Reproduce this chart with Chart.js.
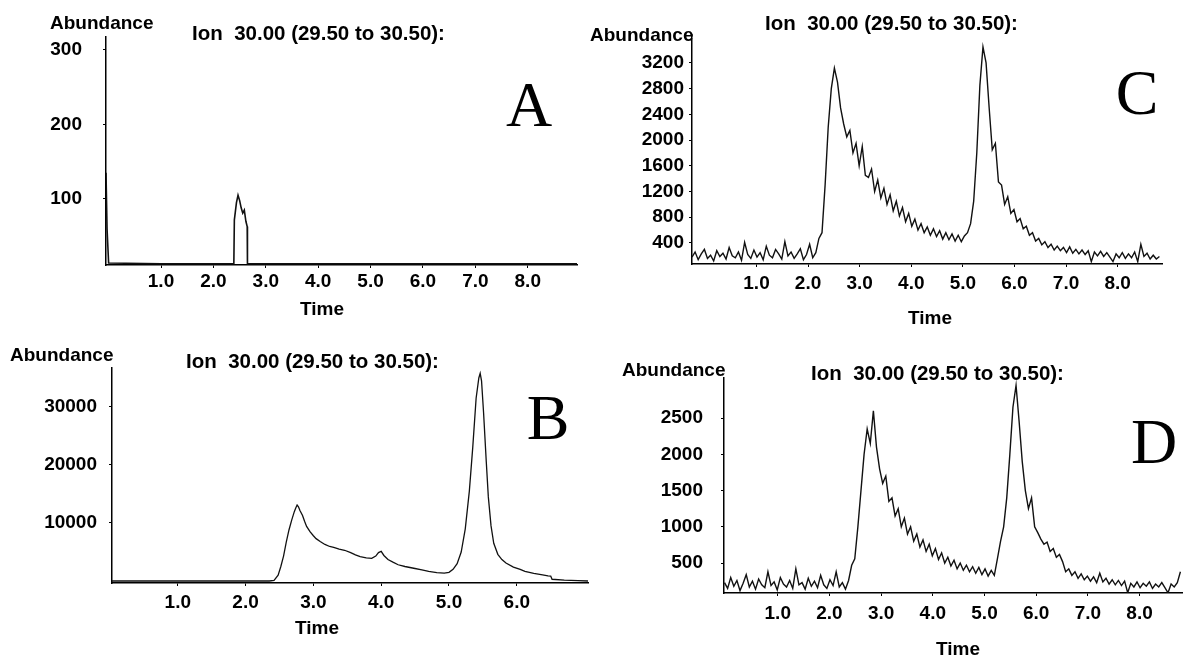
<!DOCTYPE html>
<html>
<head>
<meta charset="utf-8">
<script src="https://cdn.jsdelivr.net/npm/chart.js@4.4.1/dist/chart.umd.min.js"></script>
<style>
  html, body { margin: 0; padding: 0; background: #fff; }
  #page { position: relative; width: 1183px; height: 657px; overflow: hidden; background: #fff; }
  canvas { position: absolute; }
  .txt { position: absolute; font-family: 'Liberation Sans', Arial, sans-serif; font-weight: bold; color: #000; line-height: 1; white-space: pre; }
  .big { position: absolute; font-family: 'Liberation Serif', 'Times New Roman', serif; color: #000; line-height: 1; }
</style>
</head>
<body>
<div id="page">
  <canvas id="chartA"></canvas>
  <canvas id="chartB"></canvas>
  <canvas id="chartC"></canvas>
  <canvas id="chartD"></canvas>
</div>
<script>
// Ion 30 chromatograms
const ionTitle = 'Ion  30.00 (29.50 to 30.50):';

// A - small peak around 2.5 min
const aTimes  = [-0.05, -0.03, 0.0, 1.0, 2.0, 2.39, 2.40, 2.44, 2.47, 2.50, 2.53, 2.56, 2.59, 2.62, 2.645, 2.65, 3.0, 5.0, 7.0, 8.94];
const aValues = [135, 60, 14, 13, 13, 13, 72, 95, 105, 98, 88, 81, 85, 70, 63, 13, 13, 13, 13, 13];

// B - smooth trace
const bTimes = [0.03, 1.0, 2.0, 2.35, 2.42, 2.48, 2.52, 2.56, 2.60, 2.64, 2.68, 2.72, 2.74, 2.76, 2.78, 2.80, 2.84, 2.87, 2.90, 2.95,
  3.00, 3.04, 3.10, 3.17, 3.24, 3.30, 3.38, 3.46, 3.55, 3.62, 3.69, 3.78, 3.86, 3.92, 3.96, 4.00, 4.04, 4.10, 4.18, 4.25,
  4.35, 4.48, 4.60, 4.70, 4.82, 4.93, 5.00, 5.06, 5.12, 5.18, 5.24, 5.30, 5.35, 5.40, 5.44, 5.46, 5.48, 5.51, 5.55, 5.58,
  5.62, 5.66, 5.72, 5.78, 5.84, 5.95, 6.05, 6.12, 6.25, 6.38, 6.46, 6.50, 6.52, 6.70, 6.90, 7.05];
const bValues = [0, 0, 0, 0, 100, 1000, 2500, 4300, 6700, 8800, 10500, 12000, 12600, 13100, 12800, 12200, 11300, 10300, 9400, 8500,
  7800, 7300, 6800, 6300, 5950, 5800, 5500, 5300, 4900, 4500, 4200, 4000, 3900, 4300, 4900, 5100, 4400, 3700, 3200, 2800,
  2500, 2200, 1900, 1650, 1450, 1350, 1500, 2000, 3000, 5000, 9000, 15500, 23000, 31500, 35000, 35800, 34500, 29000, 20500, 14500,
  9500, 6500, 4600, 3700, 3100, 2400, 2000, 1650, 1300, 1050, 900, 850, 300, 150, 50, 0];

// C - noisy trace sampled every 0.06 min from -0.25
const cStart = -0.25, cStep = 0.06;
const cValues = [
  180, 260, 140, 230, 300, 160, 210, 120, 280, 190,
  240, 150, 330, 200, 170, 260, 130, 410, 220, 160,
  290, 180, 250, 140, 350, 210, 170, 300, 230, 150,
  420, 200, 260, 160, 230, 310, 140, 220, 380, 170,
  250, 470, 560, 1300, 2200, 2800, 3120, 2900, 2500, 2250,
  2050, 2150, 1800, 1950, 1600, 1900, 1450, 1420, 1550, 1200,
  1380, 1100, 1250, 1000, 1150, 900, 1050, 820, 950, 730,
  860, 660, 770, 600, 700, 560, 650, 520, 620, 500,
  590, 460, 560, 450, 540, 430, 520, 420, 510, 560,
  700, 1050, 1800, 2850, 3450, 3200, 2500, 1850, 1950, 1350,
  1300, 1000, 1120, 860, 920, 730, 780, 620, 660, 520,
  560, 430, 470, 370, 420, 330, 380, 290, 350, 280,
  330, 250, 340, 240, 300, 230, 290, 220, 280, 110,
  260, 200, 270, 190, 250, 180, 110, 230, 170, 250,
  160, 230, 170, 260, 110, 380, 190, 240, 150, 210,
  150, 190];

// D - noisy trace sampled every 0.06 min from -0.03
const dStart = -0.03, dStep = 0.06;
const dValues = [
  230, 150, 300, 180, 260, 120, 220, 340, 170, 250,
  140, 280, 200, 160, 380, 190, 240, 130, 300, 210,
  170, 260, 150, 420, 200, 230, 140, 290, 180, 250,
  160, 330, 200, 150, 270, 190, 380, 170, 230, 140,
  260, 470, 560, 1000, 1500, 2000, 2350, 2150, 2600, 2100,
  1800, 1600, 1700, 1350, 1400, 1150, 1250, 1000, 1120, 900,
  1000, 800, 900, 720, 820, 660, 760, 600, 700, 550,
  640, 500, 580, 460, 540, 420, 500, 400, 470, 380,
  450, 360, 440, 340, 420, 320, 400, 330, 560, 800,
  1000, 1400, 2000, 2650, 2950, 2450, 1900, 1500, 1250, 1400,
  1000, 920, 830, 760, 790, 660, 700, 580, 620, 520,
  380, 420, 330, 380, 290, 350, 270, 320, 250, 310,
  230, 360, 240, 290, 210, 270, 200, 260, 190, 250,
  90, 220, 170, 240, 160, 220, 180, 240, 150, 210,
  170, 230, 160, 90, 210, 170, 230, 380];

// tick labels
const xTicksA = [1, 2, 3, 4, 5, 6, 7, 8];
const xTicksB = [1, 2, 3, 4, 5, 6];
const xTicksC = [1, 2, 3, 4, 5, 6, 7, 8];
const xTicksD = [1, 2, 3, 4, 5, 6, 7, 8];
const yTicksA = [100, 200, 300];
const yTicksB = [10000, 20000, 30000];
const yTicksC = [400, 800, 1200, 1600, 2000, 2400, 2800, 3200];
const yTicksD = [500, 1000, 1500, 2000, 2500];

const sans = "'Liberation Sans', Arial, sans-serif";
const tickFont = { family: sans, size: 19, weight: 'bold' };

function pairs(times, values) {
  return values.map((v, i) => ({ x: times[i], y: v }));
}
function sampled(start, step, values) {
  return values.map((v, i) => ({ x: +(start + i * step).toFixed(3), y: v }));
}

function drawPanel(id, box, area, points, x, y, pad, lineW) {
  const canvas = document.getElementById(id);
  canvas.width = box.w;
  canvas.height = box.h;
  canvas.style.left = box.x + 'px';
  canvas.style.top = box.y + 'px';
  const xHeight = 40;
  return new Chart(canvas, {
    type: 'line',
    data: {
      datasets: [{
        data: points,
        borderColor: '#111',
        borderWidth: lineW,
        pointRadius: 0,
        tension: 0,
        fill: false
      }]
    },
    options: {
      responsive: false,
      animation: false,
      events: [],
      plugins: { legend: { display: false }, tooltip: { enabled: false } },
      layout: {
        padding: {
          left: 0,
          top: area.t - box.y,
          right: box.x + box.w - area.r,
          bottom: box.y + box.h - area.b - xHeight
        }
      },
      scales: {
        x: {
          type: 'linear',
          min: x.min,
          max: x.max,
          afterBuildTicks: s => { s.ticks = x.ticks.map(v => ({ value: v })); },
          afterFit: s => { s.height = xHeight; },
          ticks: { autoSkip: false, maxRotation: 0, padding: pad.x, color: '#000', font: tickFont,
                   callback: v => v.toFixed(1) },
          grid: { drawOnChartArea: false, drawTicks: true, tickLength: 3, color: '#000' },
          border: { color: '#000', width: 1.5 }
        },
        y: {
          type: 'linear',
          min: y.min,
          max: y.max,
          afterBuildTicks: s => { s.ticks = y.ticks.map(v => ({ value: v })); },
          afterFit: s => { s.width = area.l - box.x; },
          ticks: { autoSkip: false, padding: pad.y, color: '#000', font: tickFont,
                   callback: v => String(v) },
          grid: { drawOnChartArea: false, drawTicks: true, tickLength: 3, color: '#000' },
          border: { color: '#000', width: 1.5 }
        }
      }
    }
  });
}

function addText(text, x, cy, size, serif, centered) {
  const el = document.createElement('div');
  el.className = serif ? 'big' : 'txt';
  el.textContent = text;
  el.style.fontSize = size + 'px';
  el.style.left = x + 'px';
  el.style.top = (cy - (serif ? 0.507 : 0.49) * size) + 'px';
  if (centered) el.style.transform = 'translateX(-50%)';
  document.getElementById('page').appendChild(el);
}

window.onload = function () {
  drawPanel('chartA', { x: 0, y: 0, w: 591, h: 330 }, { l: 106, t: 37, r: 577, b: 265 },
    pairs(aTimes, aValues), { min: -0.05, max: 8.94, ticks: xTicksA }, { min: 11.4, max: 317, ticks: yTicksA }, { x: 2, y: 21 }, 1.6);
  drawPanel('chartC', { x: 591, y: 0, w: 592, h: 330 }, { l: 692, t: 35, r: 1162, b: 264 },
    sampled(cStart, cStep, cValues), { min: -0.25, max: 8.86, ticks: xTicksC }, { min: 73, max: 3634, ticks: yTicksC }, { x: 5, y: 5 }, 1.4);
  drawPanel('chartB', { x: 0, y: 330, w: 591, h: 327 }, { l: 112, t: 368, r: 588, b: 583 },
    pairs(bTimes, bValues), { min: 0.03, max: 7.05, ticks: xTicksB }, { min: -345, max: 36720, ticks: yTicksB }, { x: 5, y: 12 }, 1.3);
  drawPanel('chartD', { x: 591, y: 330, w: 592, h: 327 }, { l: 724, t: 378, r: 1183, b: 593 },
    sampled(dStart, dStep, dValues), { min: -0.04, max: 8.84, ticks: xTicksD }, { min: 87, max: 3053, ticks: yTicksD }, { x: 6, y: 18 }, 1.4);

  // panel A
  addText('Abundance', 50, 22, 19);
  addText(ionTitle, 192, 33, 20.5);
  addText('A', 529, 105, 64, true, true);
  addText('Time', 322, 308, 19, false, true);
  // panel C
  addText('Abundance', 590, 34, 19);
  addText(ionTitle, 765, 23, 20.5);
  addText('C', 1137, 93, 64, true, true);
  addText('Time', 930, 317, 19, false, true);
  // panel B
  addText('Abundance', 10, 354, 19);
  addText(ionTitle, 186, 361, 20.5);
  addText('B', 548, 418, 64, true, true);
  addText('Time', 317, 627, 19, false, true);
  // panel D
  addText('Abundance', 622, 369, 19);
  addText(ionTitle, 811, 373, 20.5);
  addText('D', 1154, 442, 64, true, true);
  addText('Time', 958, 648, 19, false, true);
};
</script>
</body>
</html>
